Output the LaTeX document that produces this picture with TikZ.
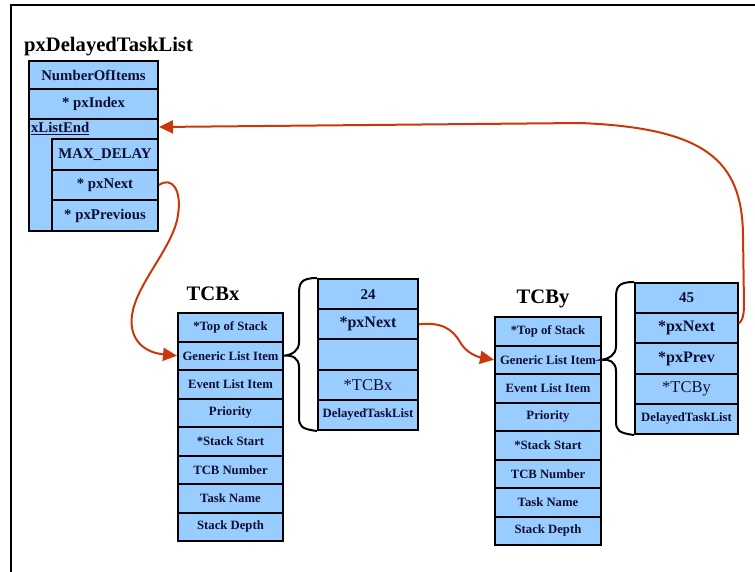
\documentclass[tikz,border=0pt]{standalone}
\usepackage{fontspec}
\setmainfont{Liberation Serif}
\usetikzlibrary{arrows.meta,calc}
\definecolor{boxblue}{RGB}{153,204,255}
\definecolor{arrowred}{RGB}{204,55,10}
\definecolor{txt}{RGB}{15,15,50}
\tikzset{
  box/.style={draw=black, line width=2pt, fill=boxblue, inner sep=0pt, text=txt, anchor=north west},
  lrow/.style={box, font=\fontsize{14.8}{17}\selectfont\bfseries},
  trow/.style={box, font=\fontsize{12.7}{15}\selectfont\bfseries},
  ttl/.style={font=\fontsize{20.6}{24}\selectfont\bfseries, text=black, inner sep=0pt},
  brace/.style={draw=black, line width=2pt},
  ptr/.style={draw=arrowred, line width=2pt, -{Triangle[length=14pt,width=13pt]}},
  bigb/.style={font=\fontsize{16}{19}\selectfont\bfseries},
  bigr/.style={font=\fontsize{16.5}{19}\selectfont},
  numb/.style={font=\fontsize{15}{18}\selectfont\bfseries},
  smallb/.style={font=\fontsize{12.7}{15}\selectfont\bfseries}
}
\begin{document}
\begin{tikzpicture}[x=1pt,y=-1pt]
\useasboundingbox (0,0) rectangle (755,572);
\draw[line width=2.5pt] (11,572) -- (11,5) -- (755,5);

% pxDelayedTaskList
\node[ttl, anchor=base west] (ttl) at (24,52) {pxDelayedTaskList};
\node[lrow, minimum width=129, minimum height=28] (noi) at (28,60) {NumberOfItems};
\node[lrow, minimum width=129, minimum height=30] (pxi) at (28,88) {* pxIndex};
\node[box, minimum width=129, minimum height=112] (xle) at (28,118) {};
\node[lrow, anchor=west, fill=none, draw=none] (xlt) at (30,128.5) {\underline{xListEnd}};
\node[lrow, minimum width=106, minimum height=31] (md) at (51,138) {MAX\_DELAY};
\node[lrow, minimum width=106, minimum height=30] (lpn) at (51,169) {* pxNext};
\node[lrow, minimum width=106, minimum height=31] (lpp) at (51,199) {* pxPrevious};

% TCBx
\node[ttl, anchor=base] (tbx) at (213,300) {TCBx};
\foreach \t [count=\i] in {*Top of Stack, Generic List Item, Event List Item, Priority, *Stack Start, TCB Number, Task Name, Stack Depth}
  \node[trow, minimum width=105, minimum height=28.5] (tx\i) at (177,{312+28.5*(\i-1)}) {\t};
\node[box, numb, minimum width=100, minimum height=30.2] (tix1) at (317,278) {24};
\node[box, bigb, minimum width=100, minimum height=30.2] (tix2) at (317,308.2) {*pxNext};
\node[box, minimum width=100, minimum height=30.2] (tix3) at (317,338.4) {};
\node[box, bigr, minimum width=100, minimum height=30.2] (tix4) at (317,368.6) {*TCBx};
\node[box, smallb, minimum width=100, minimum height=30.2] (tix5) at (317,398.8) {DelayedTaskList};
\draw[brace] (tix1.north west) .. controls (301,278) and (299,283) .. (299,294) -- (299,342)
  .. controls (299,351) and (292,354.75) .. (tx2.east)
  .. controls (292,354.75) and (299,358) .. (299,367) -- (299,417)
  .. controls (299,426) and (301,429) .. (tix5.south west);

% TCBy
\node[ttl, anchor=base] (tby) at (543,303) {TCBy};
\foreach \t [count=\i] in {*Top of Stack, Generic List Item, Event List Item, Priority, *Stack Start, TCB Number, Task Name, Stack Depth}
  \node[trow, minimum width=106, minimum height=28.5] (ty\i) at (494,{316+28.5*(\i-1)}) {\t};
\node[box, numb, minimum width=103, minimum height=30.2] (tiy1) at (634,282) {45};
\node[box, bigb, minimum width=103, minimum height=30.2] (tiy2) at (634,312.2) {*pxNext};
\node[box, bigb, minimum width=103, minimum height=30.2] (tiy3) at (634,342.4) {*pxPrev};
\node[box, bigr, minimum width=103, minimum height=30.2] (tiy4) at (634,372.6) {*TCBy};
\node[box, smallb, minimum width=103, minimum height=30.2] (tiy5) at (634,402.8) {DelayedTaskList};
\draw[brace] (tiy1.north west) .. controls (618,282) and (616,287) .. (616,298) -- (616,346)
  .. controls (616,355) and (609,358.75) .. (ty2.east)
  .. controls (609,358.75) and (616,362) .. (616,371) -- (616,421)
  .. controls (616,430) and (618,433) .. (tiy5.south west);

% pointers
\draw[ptr] (lpn.east) .. controls (172,176) and (182,190) .. (178,215)
  .. controls (174,245) and (140,280) .. (133,310)
  .. controls (127,335) and (140,352) .. (tx2.west);
\draw[ptr] (tix2.east) .. controls (440,322) and (452,328) .. (460,342)
  .. controls (466,353) and (478,357) .. (ty2.west);
\draw[ptr] ([yshift=5pt]tiy2.east) .. controls (741,322) and (744,318) .. (744,305) -- (743,235)
  .. controls (742,160) and (705,128) .. (580,123) -- ([yshift=-9pt]xle.north east);
\end{tikzpicture}
\end{document}
